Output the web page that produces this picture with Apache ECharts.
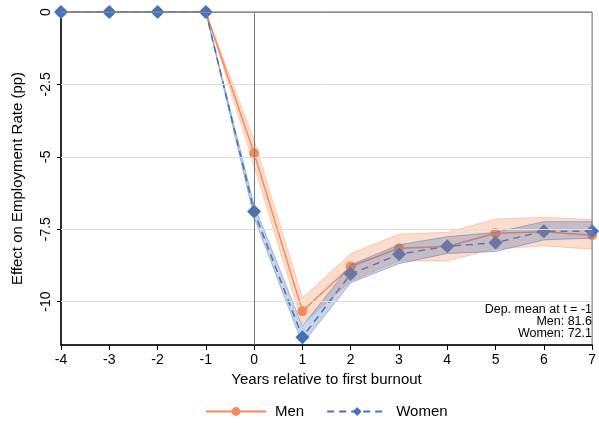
<!DOCTYPE html>
<html>
<head>
<meta charset="utf-8">
<script src="https://cdn.jsdelivr.net/npm/echarts@6/dist/echarts.min.js"></script>
<style>
html,body{margin:0;padding:0;background:#fff;}
#main{width:599px;height:423px;}
</style>
</head>
<body>
<div id="main"></div>
<script>
// years relative to first burnout
var years = [-4, -3, -2, -1, 0, 1, 2, 3, 4, 5, 6, 7];
// point estimates and 95% bands (pp)
var menEst   = [0, 0, 0, 0, -4.88, -10.33, -8.79, -8.16, -8.10, -7.64, -7.59, -7.71];
var menLo    = [0, 0, 0, 0, -5.32, -10.78, -9.29, -8.60, -8.60, -8.18, -8.08, -8.19];
var menHi    = [0, 0, 0, 0, -4.42, -9.87, -8.34, -7.67, -7.61, -7.15, -7.09, -7.17];
var womenEst = [0, 0, 0, 0, -6.89, -11.23, -9.05, -8.37, -8.09, -7.97, -7.57, -7.57];
var womenLo  = [0, 0, 0, 0, -7.10, -11.46, -9.35, -8.69, -8.34, -8.27, -7.87, -7.81];
var womenHi  = [0, 0, 0, 0, -6.68, -10.85, -8.73, -8.04, -7.76, -7.61, -7.24, -7.24];
var yTicks = [0, -2.5, -5, -7.5, -10];
var noteLines = ['Dep. mean at t = -1', 'Men: 81.6', 'Women: 72.1'];

var ORANGE = '#F68B5A';
var BLUE = '#4672BA';
var FONT = 'Liberation Sans, Arial, sans-serif';

function pairs(vals){
	return years.map(function(y, i){ return [y, vals[i]]; });
}

// confidence band as one polygon, drawn through the axes
function bandSeries(name, lo, hi, edge, fill){
	return {
		name: name, type: 'custom', silent: true, clip: false, z: 3,
		data: [[years[0], lo[0]]],
		renderItem: function(params, api){
			var upper = years.map(function(y, i){ return api.coord([y, hi[i]]); });
			var lower = years.map(function(y, i){ return api.coord([y, lo[i]]); }).reverse();
			return {
				type: 'polygon',
				shape: {points: upper.concat(lower)},
				style: {fill: fill, stroke: edge, lineWidth: 1}
			};
		}
	};
}

var chart = echarts.init(document.getElementById('main'));

var series = [];
series.push({
	name: 'refLines', type: 'line', data: [], silent: true, z: 1,
	markLine: {
		silent: true, symbol: 'none', label: {show: false},
		data: [
			{yAxis: -2.5, lineStyle: {color: '#dddddd', width: 1, type: 'solid'}},
			{yAxis: -5, lineStyle: {color: '#dddddd', width: 1, type: 'solid'}},
			{yAxis: -7.5, lineStyle: {color: '#dddddd', width: 1, type: 'solid'}},
			{yAxis: -10, lineStyle: {color: '#dddddd', width: 1, type: 'solid'}},
			{yAxis: 0, lineStyle: {color: '#888888', width: 1, type: 'solid'}},
			{xAxis: 0, lineStyle: {color: '#777777', width: 1, type: 'solid'}}
		]
	}
});
series.push({
	name: 'Men', type: 'line', data: pairs(menEst), clip: false, z: 2,
	symbol: 'circle', symbolSize: 10,
	itemStyle: {color: ORANGE},
	lineStyle: {color: ORANGE, width: 1.5}
});
series.push({
	name: 'Women', type: 'line', data: pairs(womenEst), clip: false, z: 2,
	symbol: 'diamond', symbolSize: 14,
	itemStyle: {color: BLUE},
	lineStyle: {color: BLUE, width: 1.5, type: [7, 5]}
});
series.push(bandSeries('menBand', menLo, menHi, 'rgba(246,139,90,0.35)', 'rgba(246,139,90,0.3)'));
series.push(bandSeries('womenBand', womenLo, womenHi, 'rgba(70,114,186,0.45)', 'rgba(70,114,186,0.3)'));

var option = {
	animation: false,
	textStyle: {fontFamily: FONT},
	grid: {left: 61, right: 4, top: 12, bottom: 78, show: true, borderColor: '#666', borderWidth: 1},
	xAxis: {
		type: 'value', min: -4, max: 7, interval: 1,
		name: 'Years relative to first burnout', nameLocation: 'middle', nameGap: 26,
		nameTextStyle: {fontSize: 15, color: '#000', fontFamily: FONT},
		axisLine: {onZero: false, lineStyle: {color: '#000', width: 1.5}},
		axisTick: {show: true, length: 5, lineStyle: {color: '#000'}},
		axisLabel: {fontSize: 14, color: '#000', margin: 8, fontFamily: FONT},
		splitLine: {show: false}
	},
	yAxis: {
		type: 'value', min: -11.5, max: 0,
		name: 'Effect on Employment Rate (pp)', nameLocation: 'middle', nameGap: 36,
		nameTextStyle: {fontSize: 15, color: '#000', fontFamily: FONT},
		axisLine: {show: true, onZero: false, lineStyle: {color: '#000', width: 1.5}},
		axisTick: {show: true, length: 4, lineStyle: {color: '#000'}, customValues: yTicks},
		axisLabel: {fontSize: 14, color: '#000', rotate: 90, margin: 8, fontFamily: FONT, customValues: yTicks},
		splitLine: {show: false}
	},
	legend: {
		data: ['Men', 'Women'], left: 205, top: 404, padding: 0,
		itemWidth: 60, itemHeight: 11, itemGap: 22,
		textStyle: {fontSize: 15, color: '#000', fontFamily: FONT, padding: [0, 0, 0, 4]}
	},
	graphic: [{
		type: 'text', x: 592, y: 304,
		style: {
			text: noteLines.join('\n'), align: 'right', textAlign: 'right', fill: '#000',
			font: '12.5px ' + FONT, lineHeight: 11.7
		}
	}],
	series: series
};
chart.setOption(option);
</script>
</body>
</html>
